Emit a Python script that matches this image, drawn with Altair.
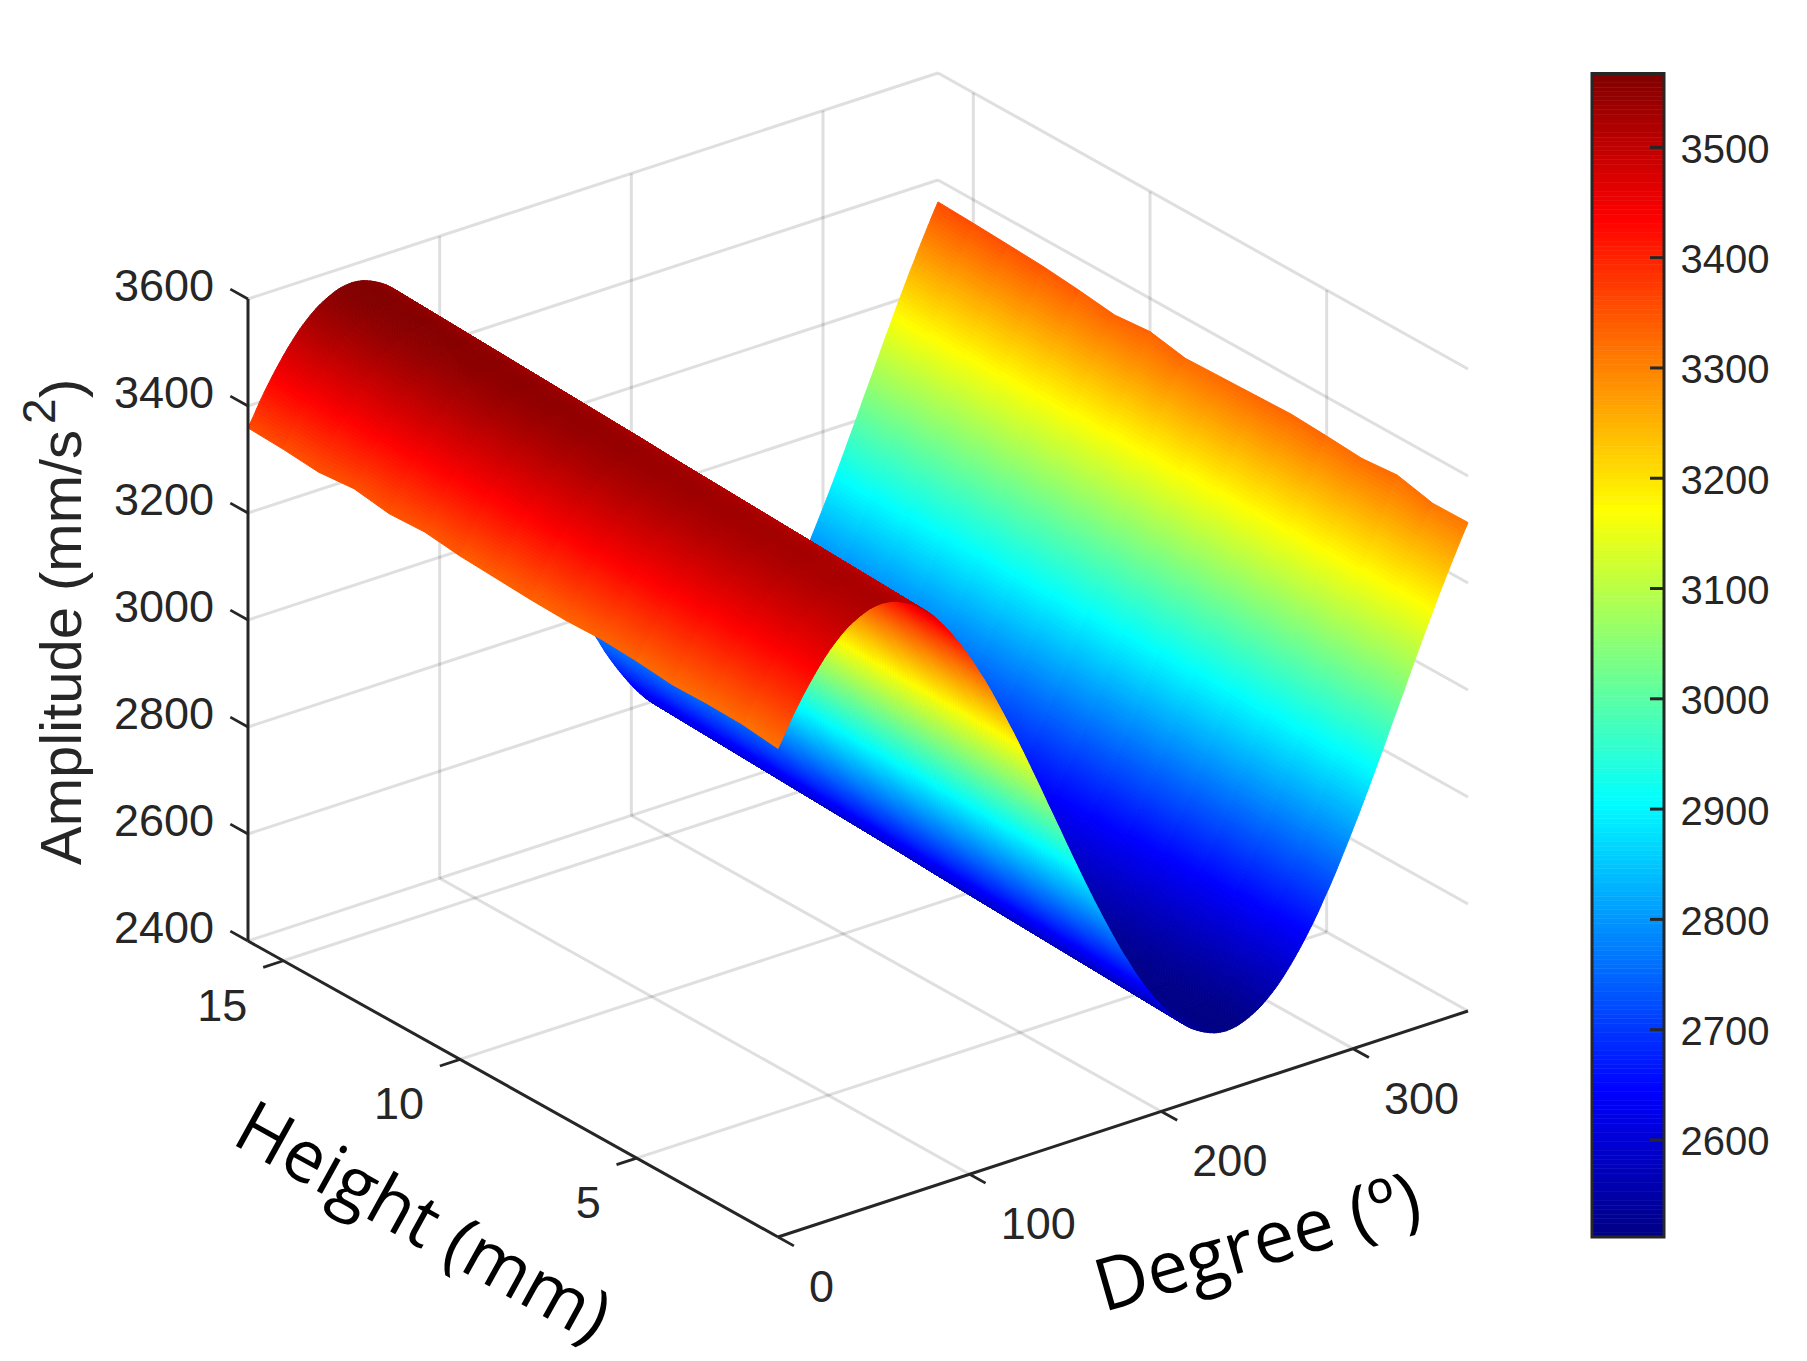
import altair as alt
import numpy as np
import pandas as pd

alt.data_transformers.disable_max_rows()

# ---------- values ----------
degrees = list(range(0, 361, 3))
amplitude_front = [
    3313, 3333, 3354, 3373, 3391, 3408, 3424, 3439, 3453, 3466, 3477, 3487, 3496, 3503, 3509, 3514, 3518, 3520, 3521, 3520,
    3518, 3514, 3509, 3503, 3496, 3487, 3477, 3466, 3453, 3439, 3424, 3408, 3391, 3373, 3354, 3333, 3313, 3291, 3268, 3245,
    3221, 3197, 3172, 3147, 3121, 3095, 3069, 3042, 3016, 2990, 2963, 2937, 2911, 2885, 2860, 2835, 2811, 2787, 2764, 2741,
    2719, 2699, 2678, 2659, 2641, 2624, 2608, 2593, 2579, 2566, 2555, 2545, 2536, 2529, 2523, 2518, 2514, 2512, 2511, 2512,
    2514, 2518, 2523, 2529, 2536, 2545, 2555, 2566, 2579, 2593, 2608, 2624, 2641, 2659, 2678, 2699, 2719, 2741, 2764, 2787,
    2811, 2835, 2860, 2885, 2911, 2937, 2963, 2990, 3016, 3042, 3069, 3095, 3121, 3147, 3172, 3197, 3221, 3245, 3268, 3291,
    3313,
]
heights = list(range(1, 17))
height_gain = [0, 3, 6, 9, 12, 15, 18, 21, 25, 28, 31, 34, 37, 40, 43, 46]
ripple_at_0 = [0, 5, 4, 0, 4, 5, 0, -1, -1, 0, 5, -1, 6, -3, 0, 0]
ripple_at_360 = [0, -4, 9, 0, 2, 3, -2, -7, -13, -3, -12, -6, -2, -1, 0, 0]
ripple_fade = [1.0, 0.55, 0.2]

z_ticks = [2400, 2600, 2800, 3000, 3200, 3400, 3600]
deg_ticks = [0, 100, 200, 300]
hgt_ticks = [5, 10, 15]
bar_ticks = [2600, 2700, 2800, 2900, 3000, 3100, 3200, 3300, 3400, 3500]
color_min, color_max = 2512, 3567
jet_fractions = [0, 0.125, 0.375, 0.625, 0.875, 1]
jet_colors = ["#000083", "#0000ff", "#00ffff", "#ffff00", "#ff0000", "#800000"]

INK = "#262626"
TICK_FONT = "Liberation Sans"
TITLE_FONT = "Open Sans"
W, H = 1560, 1345
SHADE_STEPS = 4  # facets per mesh cell, for smooth colour shading

# ---------- 3-D view ----------
DEG_MAX, H_MIN, H_MAX, Z_MIN, Z_MAX = 360, 1, 16, 2400, 3600
ORIGIN = np.array([778.0, 1237.0])
V_DEG = np.array([690.0, -226.0]) / (DEG_MAX - 0)
V_HGT = np.array([-530.0, -296.0]) / (H_MAX - H_MIN)
V_Z = np.array([0.0, -642.0]) / (Z_MAX - Z_MIN)


def project(d, h, z):
    p = ORIGIN + V_DEG * d + V_HGT * (h - H_MIN) + V_Z * (z - Z_MIN)
    return float(p[0]), float(p[1])


def seg(d0, h0, z0, d1, h1, z1):
    a, b = project(d0, h0, z0), project(d1, h1, z1)
    return {"x": a[0], "y": a[1], "x2": b[0], "y2": b[1]}


x_scale = alt.Scale(domain=[8, 8 + W], nice=False, zero=False)
y_scale = alt.Scale(domain=[8 + H, 8], nice=False, zero=False)
jet = alt.Scale(
    domain=[color_min + f * (color_max - color_min) for f in jet_fractions],
    range=jet_colors,
    interpolate="rgb",
    clamp=True,
)


def segments(rows, color, width, opacity=1.0):
    return (
        alt.Chart(pd.DataFrame(rows))
        .mark_rule(color=color, strokeWidth=width, opacity=opacity)
        .encode(
            x=alt.X("x:Q", scale=x_scale, axis=None),
            y=alt.Y("y:Q", scale=y_scale, axis=None),
            x2="x2:Q",
            y2="y2:Q",
        )
    )


# ---------- walls / floor grid ----------
grid_rows = []
for d in [t for t in deg_ticks if t > 0]:
    grid_rows.append(seg(d, H_MIN, Z_MIN, d, H_MAX, Z_MIN))
    grid_rows.append(seg(d, H_MAX, Z_MIN, d, H_MAX, Z_MAX))
for h in hgt_ticks:
    grid_rows.append(seg(0, h, Z_MIN, DEG_MAX, h, Z_MIN))
    grid_rows.append(seg(DEG_MAX, h, Z_MIN, DEG_MAX, h, Z_MAX))
for z in z_ticks:
    grid_rows.append(seg(0, H_MAX, z, DEG_MAX, H_MAX, z))
    grid_rows.append(seg(DEG_MAX, H_MAX, z, DEG_MAX, H_MIN, z))
grid = segments(grid_rows, INK, 3, 0.15)

# ---------- surface, painted from far to near ----------
n_deg = len(degrees)
Z = np.zeros((n_deg, len(heights)))
for i in range(n_deg):
    for j in range(len(heights)):
        Z[i, j] = amplitude_front[i] + height_gain[j]
        if i < len(ripple_fade):
            Z[i, j] += ripple_at_0[j] * ripple_fade[i]
        if n_deg - 1 - i < len(ripple_fade):
            Z[i, j] += ripple_at_360[j] * ripple_fade[n_deg - 1 - i]

cells = []
cell_id = 0
for i in range(n_deg - 2, -1, -1):
    for s in range(SHADE_STEPS - 1, -1, -1):
        t0, t1 = s / SHADE_STEPS, (s + 1) / SHADE_STEPS
        d0 = degrees[i] + t0 * (degrees[i + 1] - degrees[i])
        d1 = degrees[i] + t1 * (degrees[i + 1] - degrees[i])
        for j in range(len(heights) - 2, -1, -1):
            z00 = (1 - t0) * Z[i, j] + t0 * Z[i + 1, j]
            z10 = (1 - t1) * Z[i, j] + t1 * Z[i + 1, j]
            z11 = (1 - t1) * Z[i, j + 1] + t1 * Z[i + 1, j + 1]
            z01 = (1 - t0) * Z[i, j + 1] + t0 * Z[i + 1, j + 1]
            mean = (z00 + z10 + z11 + z01) / 4
            corners = [(d0, heights[j], z00), (d1, heights[j], z10), (d1, heights[j + 1], z11), (d0, heights[j + 1], z01)]
            for k, (cd, ch, cz) in enumerate(corners):
                px, py = project(cd, ch, cz)
                cells.append({"c": cell_id, "k": k, "x": round(px, 1), "y": round(py, 1), "a": round(mean, 1)})
            cell_id += 1

surface = (
    alt.Chart(pd.DataFrame(cells))
    .mark_line(interpolate="linear-closed", strokeWidth=1, strokeJoin="round")
    .encode(
        x=alt.X("x:Q", scale=x_scale, axis=None),
        y=alt.Y("y:Q", scale=y_scale, axis=None),
        detail="c:N",
        order="k:Q",
        fill=alt.Fill("a:Q", scale=jet, legend=None),
        stroke=alt.Stroke("a:Q", scale=jet, legend=None),
    )
)

# ---------- axes ----------
axis_rows = [
    seg(0, H_MAX, Z_MIN, 0, H_MAX, Z_MAX),
    seg(0, H_MIN, Z_MIN, 0, H_MAX, Z_MIN),
    seg(0, H_MIN, Z_MIN, DEG_MAX, H_MIN, Z_MIN),
]
tick_rows = (
    [seg(0, H_MAX, z, 0, H_MAX + 0.5, z) for z in z_ticks]
    + [seg(0, h, Z_MIN, -10.5, h, Z_MIN) for h in hgt_ticks]
    + [seg(d, H_MIN, Z_MIN, d, H_MIN - 0.45, Z_MIN) for d in deg_ticks]
)
axes = segments(axis_rows, INK, 3)
ticks = segments(tick_rows, INK, 2.8)


def tick_labels(points, labels, align, dx, dy):
    df = pd.DataFrame({"x": [p[0] for p in points], "y": [p[1] for p in points], "t": labels})
    return (
        alt.Chart(df)
        .mark_text(font=TICK_FONT, fontSize=45, color=INK, align=align, baseline="middle", dx=dx, dy=dy)
        .encode(
            x=alt.X("x:Q", scale=x_scale, axis=None),
            y=alt.Y("y:Q", scale=y_scale, axis=None),
            text="t:N",
        )
    )


z_labels = tick_labels([project(0, H_MAX, z) for z in z_ticks], [str(z) for z in z_ticks], "right", -34, -12)
h_labels = tick_labels([project(0, h, Z_MIN) for h in hgt_ticks], [str(h) for h in hgt_ticks], "right", -36, 46)
d_labels = tick_labels([project(d, H_MIN, Z_MIN) for d in deg_ticks], [str(d) for d in deg_ticks], "left", 31, 51)


def title(text, x, y, angle, font, size, color, align="center", baseline="middle"):
    return alt.Chart(pd.DataFrame({"t": [text]})).mark_text(
        font=font, fontSize=size, color=color, angle=angle, align=align, baseline=baseline
    ).encode(x=alt.value(x - 8), y=alt.value(y - 8), text="t:N")


t_amp = title("Amplitude (mm/s", 81, 865, 270, TICK_FONT, 58, INK, "left", "alphabetic")
t_sup = title("2", 55, 424, 270, TICK_FONT, 46, INK, "left", "alphabetic")
t_par = title(")", 81, 398, 270, TICK_FONT, 58, INK, "left", "alphabetic")
t_hgt = title("Height (mm)", 422, 1224, 29, TITLE_FONT, 72, "#000000")
t_deg = title("Degree (º)", 1258, 1245, 344, TITLE_FONT, 73, "#000000")

left = alt.layer(grid, surface, axes, ticks, z_labels, h_labels, d_labels, t_amp, t_sup, t_par, t_hgt, t_deg).properties(
    width=W, height=H
)

# ---------- colour bar ----------
bar_y = alt.Scale(domain=[color_min, color_max], range=[1237 - 8, 73.5 - 8], nice=False, zero=False)
bar_axis = alt.Axis(
    orient="right",
    values=bar_ticks,
    format="d",
    title=None,
    grid=False,
    domain=False,
    ticks=False,
    labelPadding=16,
    labelOffset=3,
    labelFont=TICK_FONT,
    labelFontSize=40,
    labelColor=INK,
)
edges = np.linspace(color_min, color_max, 257)
levels = pd.DataFrame({"lo": edges[:-1], "hi": edges[1:], "mid": (edges[:-1] + edges[1:]) / 2})
bar = (
    alt.Chart(levels)
    .mark_rect(strokeWidth=0.6)
    .encode(
        x=alt.value(0),
        x2=alt.value(72),
        y=alt.Y("lo:Q", scale=bar_y, axis=bar_axis),
        y2="hi:Q",
        fill=alt.Fill("mid:Q", scale=jet, legend=None),
        stroke=alt.Stroke("mid:Q", scale=jet, legend=None),
    )
)
bar_marks = (
    alt.Chart(pd.DataFrame({"v": bar_ticks}))
    .mark_rule(color=INK, strokeWidth=3)
    .encode(x=alt.value(58), x2=alt.value(72), y=alt.Y("v:Q", scale=bar_y, axis=bar_axis))
)
frame = (
    alt.Chart(pd.DataFrame({"a": [color_min], "b": [color_max]}))
    .mark_rect(fillOpacity=0, stroke=INK, strokeWidth=3)
    .encode(x=alt.value(0), x2=alt.value(72), y=alt.Y("a:Q", scale=bar_y, axis=bar_axis), y2="b:Q")
)
right = alt.layer(bar, bar_marks, frame).properties(width=72, height=H)

chart = (
    alt.hconcat(left, right, spacing=22)
    .properties(padding=0, background="white")
    .configure_view(stroke=None)
)
chart.save("out.html", embed_options={"renderer": "svg", "actions": False})
